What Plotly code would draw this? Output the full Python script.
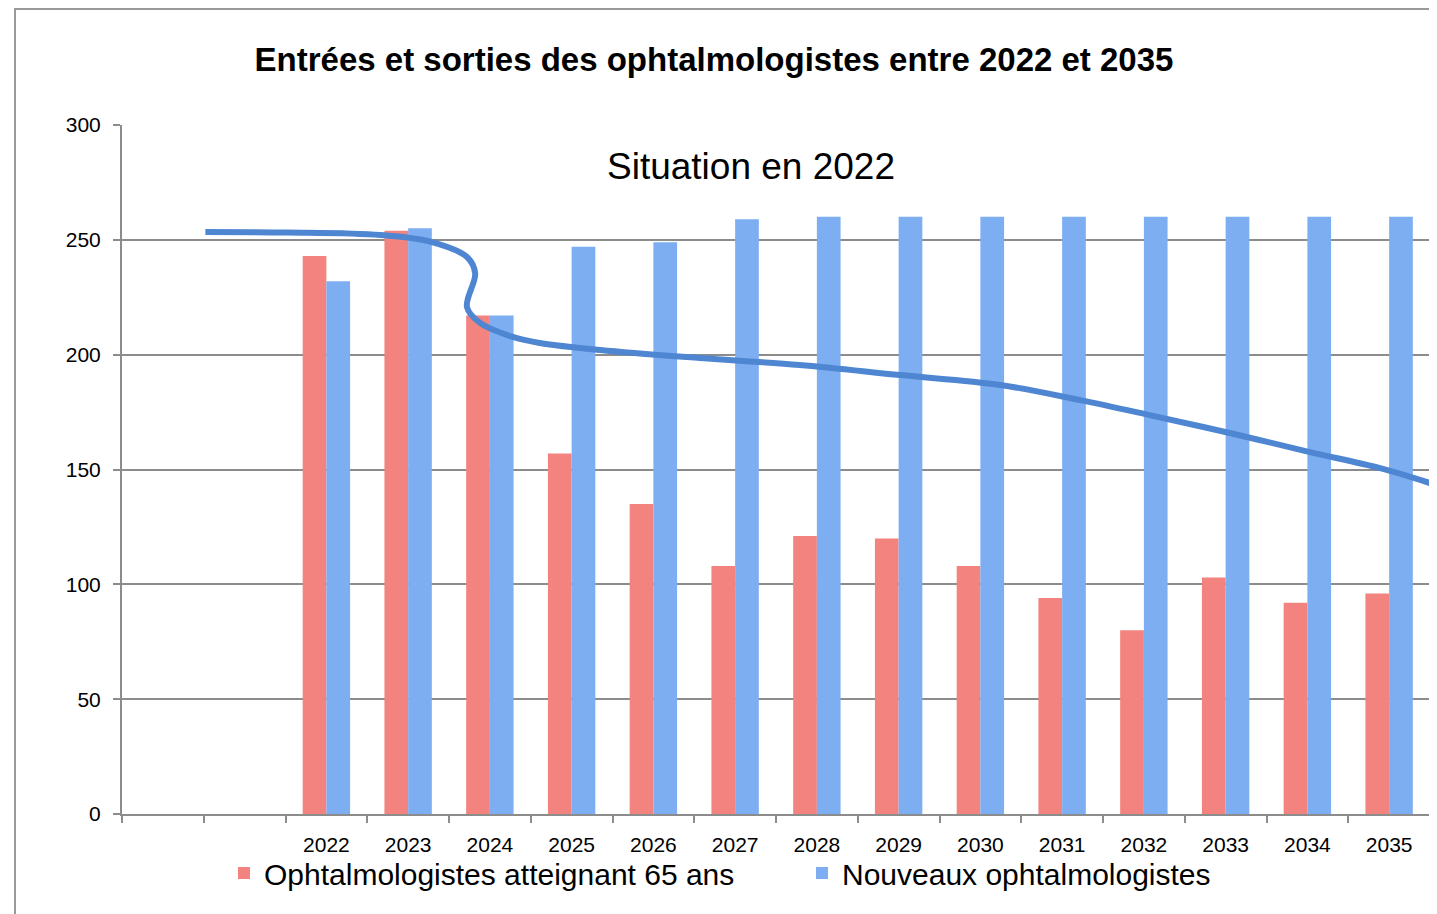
import plotly.graph_objects as go

years = ["2022", "2023", "2024", "2025", "2026", "2027", "2028", "2029",
         "2030", "2031", "2032", "2033", "2034", "2035"]
retiring = [243, 254, 217, 157, 135, 108, 121, 120, 108, 94, 80, 103, 92, 96]
new_docs = [232, 255, 217, 247, 249, 259, 260, 260, 260, 260, 260, 260, 260, 260]

# hand-drawn trend curve (x in category-index units, y in values)
curve_x = [0.52, 1.52, 2.66, 3.27, 3.72, 3.82, 3.72, 3.88, 4.28, 4.61,
           5.35, 6.57, 7.79, 9.02, 10.24, 11.22, 12.07, 13.05, 14.03, 14.89, 15.5]
curve_y = [253.4, 253.2, 252.1, 249.2, 242.5, 235.5, 220.7, 213.8, 207.7, 205.1,
           202, 198.5, 195.5, 191.1, 186.8, 180.2, 173.7, 165.9, 157.6, 150.6, 144.1]

blank_cats = [" ", "  "]
cats = blank_cats + years

fig = go.Figure()
fig.add_trace(go.Bar(
    x=cats, y=[None, None] + retiring,
    name="Ophtalmologistes atteignant 65 ans",
    marker=dict(color="#f3837e", line=dict(width=0)),
))
fig.add_trace(go.Bar(
    x=cats, y=[None, None] + new_docs,
    name="Nouveaux ophtalmologistes",
    marker=dict(color="#7caef1", line=dict(width=0)),
))
fig.add_trace(go.Scatter(
    x=curve_x, y=curve_y, xaxis="x2", mode="lines",
    line=dict(color="#4f86d2", width=6, shape="spline", smoothing=1.0),
    showlegend=False, hoverinfo="skip",
))

OFF = 8  # page body margin
W, H = 1437, 914
# plot area in page pixels: x 122..1430, y 125..814
L = 122 - OFF
T = 125 - OFF
R = W + OFF - 1430
B = H + OFF - 814
pw, ph = 1430 - 122, 814 - 125


def px(xp):
    return (xp - 122) / pw


def py(yp):
    return (814 - yp) / ph


fig.update_layout(
    width=W, height=H,
    margin=dict(l=L, r=R, t=T, b=B, pad=0),
    paper_bgcolor="white", plot_bgcolor="rgba(0,0,0,0)",
    font=dict(family="Liberation Sans, Arial, sans-serif", color="#000"),
    barmode="group", bargap=0.42, bargroupgap=0,
    title=dict(
        text="<b>Entrées et sorties des ophtalmologistes entre 2022 et 2035</b>",
        x=(714 - OFF) / W, xanchor="center", y=1 - (59 - OFF) / H, yanchor="middle",
        font=dict(size=33, family="Liberation Sans, Arial, sans-serif", color="#000"),
    ),
    xaxis=dict(
        type="category", categoryorder="array", categoryarray=cats,
        range=[-0.5, 15.5], tickson="boundaries", ticks="outside", ticklen=7,
        tickcolor="#8c8c8c", tickwidth=2, showline=True, linecolor="#8c8c8c",
        linewidth=2, showgrid=False, tickfont=dict(size=21),
        ticklabelstandoff=11, fixedrange=True,
    ),
    xaxis2=dict(
        overlaying="x", range=[-0.5, 15.5], visible=False, fixedrange=True,
    ),
    yaxis=dict(
        range=[0, 300], tickvals=[0, 50, 100, 150, 200, 250, 300],
        ticks="outside", ticklen=7, tickcolor="#8c8c8c", tickwidth=2,
        showline=True, linecolor="#8c8c8c", linewidth=2,
        showgrid=True, gridcolor="#8c8c8c", gridwidth=2,
        zeroline=False, tickfont=dict(size=21), ticklabelstandoff=8,
    ),
    legend=dict(
        orientation="h", x=px(224), xanchor="left",
        y=py(873), yanchor="middle",
        font=dict(size=30), entrywidth=533, entrywidthmode="pixels",
        bgcolor="rgba(0,0,0,0)",
    ),
    annotations=[dict(
        text="Situation en 2022", xref="paper", yref="paper",
        x=px(751), y=py(166), xanchor="center", yanchor="middle",
        showarrow=False, font=dict(size=37, color="#000"),
    )],
    shapes=[dict(
        type="rect", xref="paper", yref="paper",
        x0=px(15), x1=px(1431),
        y0=py(930), y1=py(9),
        line=dict(color="#999999", width=2), layer="below",
    )],
)

fig.write_html("out.html")
